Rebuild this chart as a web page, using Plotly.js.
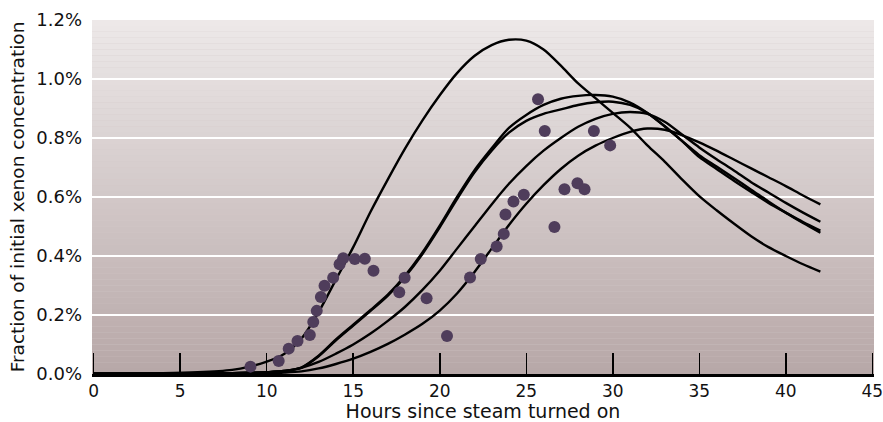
<!DOCTYPE html>
<html>
<head>
<meta charset="utf-8">
<script src="https://cdn.plot.ly/plotly-3.0.1.min.js"></script>
<style>html,body{margin:0;padding:0;background:#fff;}#chart{width:883px;height:422px;}</style>
</head>
<body>
<div id="chart"></div>
<script>
// Hours for model curves
const curveHours = [0,4,6,8,9,10,11,12,13,14,15,16,17,18,19,20,21,22,23,24,25,26,27,28,29,30,31,32,33,34,35,36,37,38,39,40,41,42];
// Model curves (fraction of initial xenon, %)
const curveA = [0.002,0.003,0.006,0.014,0.025,0.042,0.068,0.12,0.21,0.32,0.43,0.55,0.66,0.765,0.86,0.945,1.02,1.078,1.115,1.133,1.13,1.1,1.045,0.985,0.935,0.885,0.835,0.775,0.72,0.66,0.603,0.555,0.51,0.467,0.43,0.40,0.372,0.347];
const curveB = [0.001,0.001,0.002,0.003,0.004,0.006,0.01,0.022,0.062,0.117,0.167,0.217,0.269,0.334,0.412,0.503,0.6,0.69,0.765,0.834,0.878,0.912,0.933,0.943,0.946,0.94,0.92,0.885,0.84,0.79,0.742,0.703,0.664,0.625,0.585,0.547,0.512,0.479];
const curveC = [0.001,0.001,0.002,0.003,0.004,0.006,0.01,0.021,0.06,0.114,0.164,0.214,0.266,0.33,0.407,0.497,0.593,0.683,0.757,0.818,0.858,0.882,0.897,0.912,0.921,0.923,0.912,0.885,0.84,0.79,0.735,0.695,0.655,0.617,0.58,0.547,0.515,0.486];
const curveD = [0.001,0.001,0.002,0.003,0.004,0.006,0.01,0.021,0.041,0.069,0.1,0.137,0.18,0.228,0.285,0.35,0.425,0.50,0.575,0.645,0.705,0.757,0.80,0.838,0.865,0.882,0.888,0.882,0.855,0.812,0.768,0.728,0.69,0.65,0.615,0.58,0.547,0.516];
const curveE = [0.001,0.001,0.001,0.002,0.002,0.003,0.005,0.009,0.019,0.034,0.052,0.075,0.102,0.134,0.17,0.215,0.273,0.345,0.425,0.505,0.577,0.64,0.695,0.74,0.774,0.80,0.821,0.832,0.828,0.81,0.785,0.757,0.727,0.697,0.667,0.637,0.605,0.575];
// Measured points
const obsHours = [9.06,10.69,11.27,11.78,12.49,12.69,12.89,13.13,13.34,13.84,14.21,14.42,15.09,15.67,16.17,17.66,17.97,19.24,20.42,21.75,22.37,23.29,23.70,23.80,24.26,24.86,25.68,26.07,26.63,27.21,27.96,28.37,28.91,29.85];
const obsValues = [0.025,0.044,0.086,0.112,0.132,0.176,0.214,0.261,0.299,0.326,0.372,0.392,0.390,0.391,0.350,0.277,0.326,0.257,0.129,0.327,0.390,0.432,0.475,0.541,0.585,0.608,0.931,0.824,0.498,0.626,0.647,0.626,0.824,0.775];
const xTicks = [0,5,10,15,20,25,30,35,40,45];
const yTicks = [0,0.2,0.4,0.6,0.8,1.0,1.2];
const yTickLabels = ['0.0%','0.2%','0.4%','0.6%','0.8%','1.0%','1.2%'];

const fontFam = 'DejaVu Sans, sans-serif';
const lineStyle = {color:'#000', width:2.4, shape:'spline', smoothing:0.8};
const traces = [curveA,curveB,curveC,curveD,curveE].map(c => ({
  x: curveHours, y: c, type:'scatter', mode:'lines', line: lineStyle, hoverinfo:'skip'
}));
traces.push({x: obsHours, y: obsValues, type:'scatter', mode:'markers',
  marker:{color:'#4f3d5b', size:12}, hoverinfo:'skip'});

// Background gradient bands
const bgShapes = [];
const nBands = 60;
const colTop = [237,233,233], colBot = [183,167,167];
for (let i = 0; i < nBands; i++) {
  const t = (i + 0.5) / nBands;
  const c = colBot.map((b,k) => Math.round(b + (colTop[k]-b)*t));
  bgShapes.push({type:'rect', xref:'paper', yref:'paper', x0:0, x1:1,
    y0:i/nBands, y1:(i+1)/nBands, fillcolor:`rgb(${c[0]},${c[1]},${c[2]})`,
    line:{width:0}, layer:'below'});
}

const layout = {
  width:883, height:422,
  margin:{l:92, r:9, t:20, b:48},
  paper_bgcolor:'#fff', plot_bgcolor:'rgb(210,200,200)',
  showlegend:false,
  shapes: bgShapes,
  font:{family:fontFam, size:18, color:'#111'},
  xaxis:{range:[-0.1,45.1], tickvals:xTicks, ticks:'inside', ticklen:21, tickwidth:1.5, tickcolor:'#000',
    showline:true, linecolor:'#000', linewidth:3, showgrid:false, zeroline:false,
    ticklabeloverflow:'allow',
    tickfont:{family:fontFam, size:17, color:'#111'},
    title:{text:'Hours since steam turned on', font:{family:fontFam, size:19, color:'#111'}, standoff:6}},
  yaxis:{range:[0,1.2], tickvals:yTicks, ticktext:yTickLabels, ticks:'', showline:false,
    showgrid:true, gridcolor:'#fff', gridwidth:2, zeroline:false, ticklabelstandoff:9,
    tickfont:{family:fontFam, size:18, color:'#111'},
    title:{text:'Fraction of initial xenon concentration', font:{family:fontFam, size:18.5, color:'#111'}, standoff:6}}
};
Plotly.newPlot('chart', traces, layout, {staticPlot:true, displayModeBar:false});
</script>
</body>
</html>
